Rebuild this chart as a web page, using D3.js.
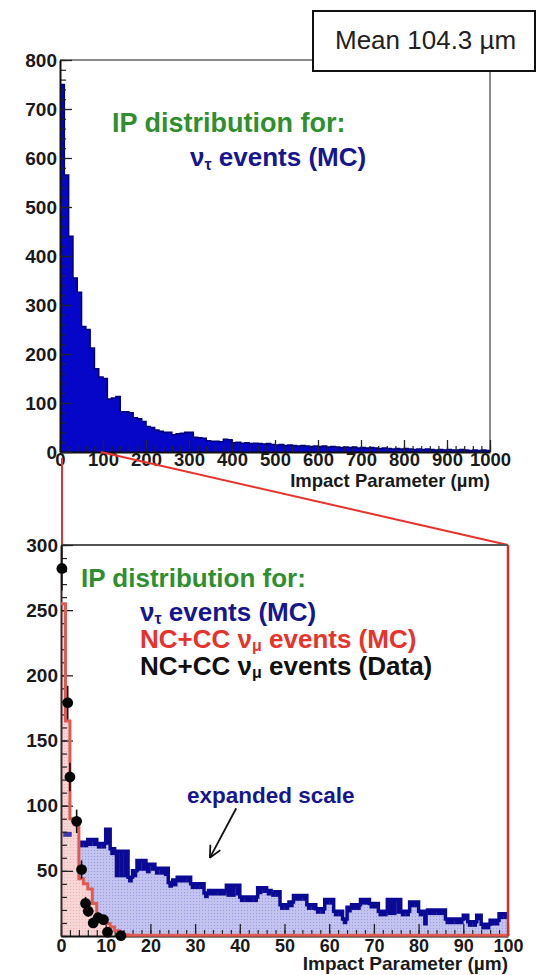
<!DOCTYPE html>
<html>
<head>
<meta charset="utf-8">
<script src="https://cdn.jsdelivr.net/npm/d3@7"></script>
<style>
  body { margin: 0; background: #fff; }
  svg { display: block; }
</style>
</head>
<body>
<script>
// ---- data ----
// full-range nu_tau MC histogram, 10 um bins from 0 to 1000 um
const tauFull = [
  750, 565, 440, 355, 326, 256, 250, 212, 170, 153,
  150, 108, 110, 113, 82, 82, 80, 70, 68, 62,
  52, 50, 45, 42, 40, 40, 35, 37, 38, 40,
  40, 30, 29, 28, 23, 22, 22, 21, 26, 25,
  19, 20, 18, 19, 17, 18, 17, 16, 17, 15,
  14, 15, 13, 14, 13, 12, 13, 12, 11, 12,
  11, 12, 10, 11, 10, 9, 10, 9, 10, 8,
  9, 8, 9, 8, 7, 8, 7, 6, 7, 6,
  7, 6, 5, 6, 5, 6, 5, 4, 5, 4,
  5, 4, 4, 5, 4, 3, 4, 3, 4, 3
];

// expanded range, 1 um bins from 0 to 100 um
// nu_tau MC: histogram line and the top of its light fill
const tauLine = [
  77, 78, 77, 76, 72, 72, 74, 74, 71, 71,
  82, 67, 65, 65, 65, 45, 50, 58, 58, 55,
  55, 52, 52, 52, 41, 43, 45, 45, 45, 40,
  40, 40, 33, 35, 35, 35, 35, 39, 39, 39,
  30, 30, 30, 30, 37, 37, 35, 34, 34, 24,
  24, 26, 31, 31, 31, 24, 24, 21, 21, 28,
  28, 19, 19, 13, 22, 24, 24, 28, 28, 25,
  25, 19, 19, 28, 28, 28, 19, 19, 26, 26,
  19, 19, 20, 20, 20, 20, 13, 13, 13, 13,
  16, 11, 11, 16, 9, 9, 12, 12, 17, 17
];
const tauFill = [
  73, 73, 73, 73, 68, 68, 69, 69, 67, 67,
  70, 62, 45, 45, 45, 41, 45, 50, 50, 48,
  50, 47, 47, 46, 37, 38, 41, 41, 41, 36,
  36, 36, 29, 31, 31, 31, 31, 30, 30, 31,
  26, 26, 26, 26, 32, 33, 31, 30, 30, 20,
  20, 22, 27, 27, 27, 20, 20, 17, 17, 24,
  24, 15, 15, 9, 18, 20, 20, 24, 24, 21,
  21, 15, 15, 16, 16, 17, 15, 15, 22, 22,
  15, 8, 16, 16, 16, 16, 9, 9, 9, 9,
  12, 7, 7, 12, 5, 5, 8, 8, 13, 13
];
// NC+CC nu_mu MC
const numuMC = [
  255, 165, 90, 86, 44, 40, 36, 25, 15, 14,
  9.5, 7, 4, 2, 1, 0.5, 0.5, 0.5, 0.5, 0.5,
  0.5, 0.5, 0.5, 0.5, 0.5, 0.5, 0.5, 0.5, 0.5, 0.5,
  0.5, 0.5, 0.5, 0.5, 0.5, 0.5, 0.5, 0.5, 0.5, 0.5,
  0.5, 0.5, 0.5, 0.5, 0.5, 0.5, 0.5, 0.5, 0.5, 0.5,
  0.5, 0.5, 0.5, 0.5, 0.5, 0.5, 0.5, 0.5, 0.5, 0.5,
  0.5, 0.5, 0.5, 0.5, 0.5, 0.5, 0.5, 0.5, 0.5, 0.5,
  0.5, 0.5, 0.5, 0.5, 0.5, 0.5, 0.5, 0.5, 0.5, 0.5,
  0.5, 0.5, 0.5, 0.5, 0.5, 0.5, 0.5, 0.5, 0.5, 0.5,
  0.5, 0.5, 0.5, 0.5, 0.5, 0.5, 0.5, 0.5, 0.5, 0.5
];
// NC+CC nu_mu data points
const dataX = [0.2, 1.5, 2.0, 3.5, 4.6, 5.5, 6.1, 7.2, 8.3, 9.5, 10.4, 13.4];
const dataY = [282, 179, 122, 88, 51, 25, 19, 10, 14, 12.5, 3, 0.3];
const dataErr = [17, 13, 11, 9, 7, 5, 4, 3, 4, 3.5, 2, 1];

// tick labels
const topXTicks = [0, 100, 200, 300, 400, 500, 600, 700, 800, 900, 1000];
const topYTicks = [0, 100, 200, 300, 400, 500, 600, 700, 800];
const botXTicks = [0, 10, 20, 30, 40, 50, 60, 70, 80, 90, 100];
const botYTicks = [50, 100, 150, 200, 250, 300];

// ---- drawing ----
const W = 538, H = 975;
const FONT = "'Liberation Sans', Arial, Helvetica, sans-serif";
const GREEN = "#2f8f2f", NAVY = "#16168e", RED = "#e8322c";
const fmt = d3.format("d");

const svg = d3.select("body").append("svg")
  .attr("width", W).attr("height", H)
  .style("font-family", FONT);

const defs = svg.append("defs");
const pat = defs.append("pattern").attr("id", "tauDots")
  .attr("width", 3).attr("height", 3).attr("patternUnits", "userSpaceOnUse");
pat.append("rect").attr("width", 3).attr("height", 3).attr("fill", "#c3c3f0");
pat.append("rect").attr("x", 1).attr("y", 1).attr("width", 1).attr("height", 1).attr("fill", "#9c9cdc");
const patR = defs.append("pattern").attr("id", "numuDots")
  .attr("width", 3).attr("height", 3).attr("patternUnits", "userSpaceOnUse");
patR.append("rect").attr("width", 3).attr("height", 3).attr("fill", "#f8d6d6");
patR.append("rect").attr("x", 1).attr("y", 1).attr("width", 1).attr("height", 1).attr("fill", "#eab4b4");

const xT = d3.scaleLinear().domain([0, 1000]).range([60, 490]);
const yT = d3.scaleLinear().domain([0, 800]).range([452, 60]);
const xB = d3.scaleLinear().domain([0, 100]).range([61, 508]);
const yB = d3.scaleLinear().domain([0, 300]).range([936, 545]);

// points for a step histogram with a closing edge
function steps(vals, w) {
  const p = vals.map((v, i) => [i * w, v]);
  p.push([vals.length * w, vals[vals.length - 1]]);
  return p;
}

function styleAxis(g, labelSize) {
  g.selectAll(".domain").attr("stroke", "#111").attr("stroke-width", 2);
  g.selectAll(".tick line").attr("stroke", "#222").attr("stroke-width", 1.3);
  g.selectAll(".tick text").attr("font-size", labelSize).attr("font-weight", "bold")
    .attr("fill", "#1a1a1a").attr("font-family", FONT);
}
function minorStyle(g) {
  g.select(".domain").remove();
  g.selectAll(".tick line").attr("stroke", "#222").attr("stroke-width", 1.2);
}

// ===== upper panel: full range =====
const upper = svg.append("g");

// frame
upper.append("line").attr("x1", xT(0)).attr("x2", xT(1000)).attr("y1", yT(800)).attr("y2", yT(800))
  .attr("stroke", "#666").attr("stroke-width", 1.5);
upper.append("line").attr("x1", xT(1000)).attr("x2", xT(1000)).attr("y1", yT(800)).attr("y2", yT(0))
  .attr("stroke", "#666").attr("stroke-width", 1.5);

const upperPts = steps(tauFull, 10);
upper.append("path").datum(upperPts)
  .attr("d", d3.area().x(d => xT(d[0])).y0(yT(0)).y1(d => yT(d[1])).curve(d3.curveStepAfter))
  .attr("fill", "#0606c8");
upper.append("path").datum(upperPts)
  .attr("d", d3.line().x(d => xT(d[0])).y(d => yT(d[1])).curve(d3.curveStepAfter))
  .attr("fill", "none").attr("stroke", "#00007a").attr("stroke-width", 1.6);

// minor ticks then labelled axes
upper.append("g").attr("transform", `translate(0,${yT(0)})`)
  .call(d3.axisBottom(xT).tickValues(d3.range(0, 1001, 20)).tickSizeInner(-6).tickSizeOuter(0).tickFormat(""))
  .call(minorStyle);
upper.append("g").attr("transform", `translate(${xT(0)},0)`)
  .call(d3.axisLeft(yT).tickValues(d3.range(0, 801, 20)).tickSizeInner(-6).tickSizeOuter(0).tickFormat(""))
  .call(minorStyle);

upper.append("g").attr("transform", `translate(0,${yT(0)})`)
  .call(d3.axisBottom(xT).tickValues(topXTicks).tickFormat(fmt).tickSizeInner(-12).tickSizeOuter(0).tickPadding(1))
  .call(g => styleAxis(g, 18.5));
upper.append("g").attr("transform", `translate(${xT(0)},0)`)
  .call(d3.axisLeft(yT).tickValues(topYTicks).tickFormat(fmt).tickSizeInner(-12).tickSizeOuter(0).tickPadding(3))
  .call(g => styleAxis(g, 19));

upper.append("text").attr("x", xT(1000)).attr("y", 487).attr("text-anchor", "end")
  .attr("font-size", 18.5).attr("font-weight", "bold").attr("fill", "#1a1a1a")
  .text("Impact Parameter (µm)");

upper.append("text").attr("x", 112).attr("y", 132)
  .attr("font-size", 27).attr("font-weight", "bold").attr("fill", GREEN)
  .text("IP distribution for:");
const tUp = upper.append("text").attr("x", 190).attr("y", 166)
  .attr("font-size", 26).attr("font-weight", "bold").attr("fill", NAVY);
tUp.append("tspan").text("ν");
tUp.append("tspan").attr("font-size", 16).attr("dy", 4).text("τ");
tUp.append("tspan").attr("dy", -4).text(" events (MC)");

// statistics box
svg.append("rect").attr("x", 313).attr("y", 11).attr("width", 222).attr("height", 60)
  .attr("fill", "#fff").attr("stroke", "#111").attr("stroke-width", 2);
svg.append("text").attr("x", 335).attr("y", 49)
  .attr("font-size", 26).attr("fill", "#222").text("Mean 104.3 µm");

// ===== zoom connectors =====
svg.append("line").attr("x1", xB(0) + 1).attr("x2", xB(0) + 1).attr("y1", yT(0) + 6).attr("y2", yB(300))
  .attr("stroke", RED).attr("stroke-width", 2);
svg.append("line").attr("x1", xT(95)).attr("y1", yT(0)).attr("x2", xB(100)).attr("y2", yB(300))
  .attr("stroke", RED).attr("stroke-width", 2);

// ===== lower panel: expanded range =====
const lower = svg.append("g");

lower.append("line").attr("x1", xB(0)).attr("x2", xB(100)).attr("y1", yB(300)).attr("y2", yB(300))
  .attr("stroke", "#555").attr("stroke-width", 2);

const tauFillPts = steps(tauFill, 1);
const tauLinePts = steps(tauLine, 1);
const numuPts = steps(numuMC, 1);

// nu_tau light fill
lower.append("path").datum(tauFillPts)
  .attr("d", d3.area().x(d => xB(d[0])).y0(yB(0)).y1(d => yB(d[1])).curve(d3.curveStepAfter))
  .attr("fill", "url(#tauDots)");

// nu_mu MC fill
lower.append("path").datum(numuPts)
  .attr("d", d3.area().x(d => xB(d[0])).y0(yB(0)).y1(d => yB(d[1])).curve(d3.curveStepAfter))
  .attr("fill", "url(#numuDots)");

// nu_tau dark band between fill top and histogram line
lower.append("g").selectAll("rect").data(tauLine).join("rect")
  .attr("x", (d, i) => xB(i))
  .attr("width", (d, i) => xB(i + 1) - xB(i) + 0.3)
  .attr("y", d => yB(d))
  .attr("height", (d, i) => Math.max(0, yB(tauFill[i]) - yB(d)))
  .attr("fill", "#0a0a96")
  .attr("display", (d, i) => i < 4 ? "none" : null);
lower.append("path").datum(tauLinePts.slice(4))
  .attr("d", d3.line().x(d => xB(d[0])).y(d => yB(d[1])).curve(d3.curveStepAfter))
  .attr("fill", "none").attr("stroke", "#0a0a96").attr("stroke-width", 3.5);
lower.append("path").datum([[0.5, tauLine[1]], [2.4, tauLine[1]]])
  .attr("d", d3.line().x(d => xB(d[0])).y(d => yB(d[1])))
  .attr("fill", "none").attr("stroke", "#1c1caa").attr("stroke-width", 5).attr("opacity", 0.85);

// minor + major ticks
lower.append("g").attr("transform", `translate(0,${yB(0)})`)
  .call(d3.axisBottom(xB).tickValues(d3.range(0, 101, 2)).tickSizeInner(-6).tickSizeOuter(0).tickFormat(""))
  .call(minorStyle);
lower.append("g").attr("transform", `translate(${xB(0)},0)`)
  .call(d3.axisLeft(yB).tickValues(d3.range(0, 301, 10)).tickSizeInner(-6).tickSizeOuter(0).tickFormat(""))
  .call(minorStyle);
lower.append("g").attr("transform", `translate(0,${yB(0)})`)
  .call(d3.axisBottom(xB).tickValues(botXTicks).tickFormat(fmt).tickSizeInner(-12).tickSizeOuter(0).tickPadding(3))
  .call(g => styleAxis(g, 18));
lower.append("g").attr("transform", `translate(${xB(0)},0)`)
  .call(d3.axisLeft(yB).tickValues(botYTicks).tickFormat(fmt).tickSizeInner(-12).tickSizeOuter(0).tickPadding(3))
  .call(g => styleAxis(g, 19))
  .call(g => g.select(".domain").attr("stroke", "#3a2a2a"));

// nu_mu MC outline
lower.append("path").datum(numuPts)
  .attr("d", d3.line().x(d => xB(d[0])).y(d => yB(d[1])).curve(d3.curveStepAfter))
  .attr("fill", "none").attr("stroke", "#e05a52").attr("stroke-width", 3);

// right edge of the expanded frame
lower.append("line").attr("x1", xB(100)).attr("x2", xB(100)).attr("y1", yB(300)).attr("y2", yB(0))
  .attr("stroke", "#d0302a").attr("stroke-width", 2.5);

// data points
const pts = lower.append("g");
pts.selectAll("line").data(dataY).join("line")
  .attr("x1", (d, i) => xB(dataX[i])).attr("x2", (d, i) => xB(dataX[i]))
  .attr("y1", (d, i) => yB(Math.min(300, d + dataErr[i])))
  .attr("y2", (d, i) => yB(Math.max(0, d - dataErr[i])))
  .attr("stroke", "#111").attr("stroke-width", 1.6);
pts.selectAll("circle").data(dataY).join("circle")
  .attr("cx", (d, i) => xB(dataX[i])).attr("cy", d => yB(d)).attr("r", 5.4)
  .attr("fill", "#050505");

lower.append("text").attr("x", xB(100)).attr("y", 970).attr("text-anchor", "end")
  .attr("font-size", 19).attr("font-weight", "bold").attr("fill", "#1a1a1a")
  .text("Impact Parameter (µm)");

// legend text
lower.append("text").attr("x", 81).attr("y", 587)
  .attr("font-size", 26).attr("font-weight", "bold").attr("fill", GREEN)
  .text("IP distribution for:");
function legendLine(y, color, prefix, sub, rest) {
  const t = lower.append("text").attr("x", 140).attr("y", y)
    .attr("font-size", 26).attr("font-weight", "bold").attr("fill", color);
  t.append("tspan").text(prefix + "ν");
  t.append("tspan").attr("font-size", 16).attr("dy", 3).text(sub);
  t.append("tspan").attr("dy", -3).text(rest);
}
legendLine(621, NAVY, "", "τ", " events (MC)");
legendLine(648, RED, "NC+CC ", "μ", " events (MC)");
legendLine(675, "#111", "NC+CC ", "μ", " events (Data)");

// annotation
lower.append("text").attr("x", 187).attr("y", 803)
  .attr("font-size", 22.5).attr("font-weight", "bold").attr("fill", NAVY)
  .text("expanded scale");
const ax0 = xB(39.2), ay0 = yB(98), ax1 = xB(33.3), ay1 = yB(60);
lower.append("line").attr("x1", ax0).attr("y1", ay0).attr("x2", ax1).attr("y2", ay1)
  .attr("stroke", "#111").attr("stroke-width", 1.8);
const ang = Math.atan2(ay1 - ay0, ax1 - ax0);
[0.45, -0.45].forEach(da => {
  lower.append("line").attr("x1", ax1).attr("y1", ay1)
    .attr("x2", ax1 - 13 * Math.cos(ang + da)).attr("y2", ay1 - 13 * Math.sin(ang + da))
    .attr("stroke", "#111").attr("stroke-width", 1.8);
});
</script>
</body>
</html>
